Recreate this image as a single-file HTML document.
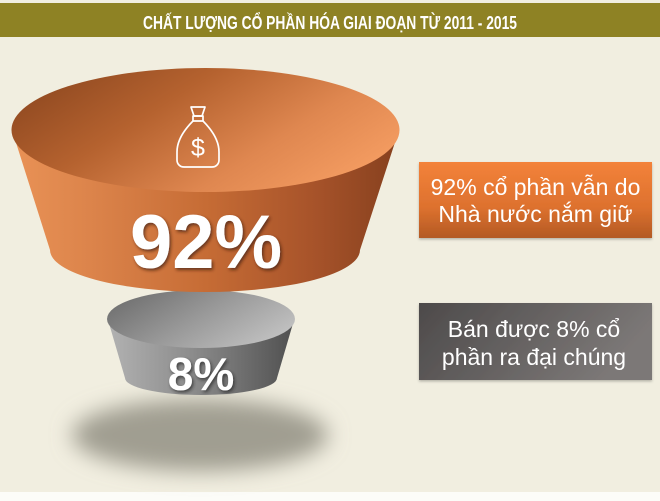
<!DOCTYPE html>
<html>
<head>
<meta charset="utf-8">
<style>
html,body{margin:0;padding:0;background:#f1eee0;}
body{width:660px;height:501px;overflow:hidden;position:relative;}
svg{display:block;}
</style>
</head>
<body>
<svg width="660" height="501" viewBox="0 0 660 501" xmlns="http://www.w3.org/2000/svg">
  <defs>
    <linearGradient id="oTop" x1="0" y1="0.2" x2="1" y2="0.7">
      <stop offset="0" stop-color="#8e4820"/>
      <stop offset="0.35" stop-color="#b5622f"/>
      <stop offset="0.7" stop-color="#df8750"/>
      <stop offset="1" stop-color="#f59d62"/>
    </linearGradient>
    <linearGradient id="oSide" x1="12" y1="0" x2="399" y2="0" gradientUnits="userSpaceOnUse">
      <stop offset="0" stop-color="#e99256"/>
      <stop offset="0.2" stop-color="#dc844b"/>
      <stop offset="0.5" stop-color="#c66c35"/>
      <stop offset="0.78" stop-color="#a7532a"/>
      <stop offset="1" stop-color="#86401e"/>
    </linearGradient>
    <linearGradient id="gTop" x1="0" y1="0.2" x2="1" y2="0.7">
      <stop offset="0" stop-color="#6e6e6e"/>
      <stop offset="0.5" stop-color="#999999"/>
      <stop offset="1" stop-color="#c2c2c2"/>
    </linearGradient>
    <linearGradient id="gSide" x1="108" y1="0" x2="294" y2="0" gradientUnits="userSpaceOnUse">
      <stop offset="0" stop-color="#b2b2b2"/>
      <stop offset="0.45" stop-color="#8c8c8c"/>
      <stop offset="1" stop-color="#505050"/>
    </linearGradient>
    <linearGradient id="boxO" x1="0" y1="0" x2="0" y2="1">
      <stop offset="0" stop-color="#f3823a"/>
      <stop offset="0.6" stop-color="#dd712e"/>
      <stop offset="1" stop-color="#b35a25"/>
    </linearGradient>
    <linearGradient id="boxG" x1="0" y1="0" x2="1" y2="0.3">
      <stop offset="0" stop-color="#4d4a4a"/>
      <stop offset="1" stop-color="#7c7877"/>
    </linearGradient>
    <filter id="blur" x="-50%" y="-80%" width="200%" height="260%">
      <feGaussianBlur stdDeviation="11"/>
    </filter>
    <filter id="ds" x="-20%" y="-20%" width="140%" height="140%">
      <feDropShadow dx="1.5" dy="2" stdDeviation="1.5" flood-color="#3a1a08" flood-opacity="0.7"/>
    </filter>
    <filter id="ds2" x="-20%" y="-20%" width="140%" height="140%">
      <feDropShadow dx="1.5" dy="2" stdDeviation="1.5" flood-color="#222" flood-opacity="0.7"/>
    </filter>
    <filter id="bs" x="-10%" y="-20%" width="120%" height="150%">
      <feDropShadow dx="0" dy="1.5" stdDeviation="1.2" flood-color="#000" flood-opacity="0.25"/>
    </filter>
  </defs>

  <!-- background -->
  <rect x="0" y="0" width="660" height="501" fill="#f1eee0"/>
  <rect x="0" y="492" width="660" height="9" fill="#fcfcf8"/>

  <!-- header -->
  <rect x="0" y="3" width="660" height="34" fill="#8e8224"/>
  <text x="143" y="29" textLength="374" lengthAdjust="spacingAndGlyphs" font-family="'Liberation Sans Narrow','Liberation Sans',sans-serif" font-weight="bold" font-size="18" fill="#ffffff">CHẤT LƯỢNG CỔ PHẦN HÓA GIAI ĐOẠN TỪ 2011 - 2015</text>

  <!-- shadow -->
  <ellipse cx="200" cy="435" rx="128" ry="36" fill="#a09e91" filter="url(#blur)"/>

  <!-- gray funnel -->
  <path d="M108,320 L125,378 A76,17 0 0 0 277,378 L294,320 Z" fill="url(#gSide)"/>
  <ellipse cx="201" cy="319" rx="94" ry="29" fill="url(#gTop)"/>
  <text x="201" y="390" text-anchor="middle" font-family="'Liberation Sans',sans-serif" font-weight="bold" font-size="46" fill="#ffffff" filter="url(#ds2)">8%</text>

  <!-- orange funnel -->
  <path d="M12,130 L50,250 A155,42 0 0 0 360,250 L399,130 Z" fill="url(#oSide)"/>
  <ellipse cx="205.5" cy="130" rx="194" ry="62" fill="url(#oTop)"/>
  <text x="206" y="268" text-anchor="middle" font-family="'Liberation Sans',sans-serif" font-weight="bold" font-size="76" fill="#ffffff" filter="url(#ds)">92%</text>

  <!-- money bag icon -->
  <g fill="none" stroke="#ffffff" stroke-width="1.7" stroke-linejoin="round" stroke-linecap="round">
    <path d="M191,107 L205,107 L202,116 L194,116 Z"/>
    <path d="M193,116 L203,116 L203,121 L193,121 Z"/>
    <path d="M193,121 C184,130 177,140 177,152 L177,160 C177,164 180,167 184,167 L212,167 C216,167 219,164 219,160 L219,152 C219,140 212,130 203,121"/>
  </g>
  <text x="198" y="156" text-anchor="middle" font-family="'Liberation Sans',sans-serif" font-size="25" fill="#ffffff">$</text>

  <!-- orange label -->
  <rect x="419" y="162" width="233" height="76" fill="url(#boxO)" filter="url(#bs)"/>
  <text x="535.5" y="195" text-anchor="middle" font-family="'Liberation Sans',sans-serif" font-size="23" fill="#ffffff">92% cổ phần vẫn do</text>
  <text x="535.5" y="222" text-anchor="middle" font-family="'Liberation Sans',sans-serif" font-size="23" fill="#ffffff">Nhà nước nắm giữ</text>

  <!-- gray label -->
  <rect x="419" y="303" width="233" height="77" fill="url(#boxG)" filter="url(#bs)"/>
  <text x="534" y="337" text-anchor="middle" font-family="'Liberation Sans',sans-serif" font-size="23" fill="#ffffff">Bán được 8% cổ</text>
  <text x="534" y="365" text-anchor="middle" font-family="'Liberation Sans',sans-serif" font-size="23" fill="#ffffff">phần ra đại chúng</text>
</svg>
</body>
</html>
